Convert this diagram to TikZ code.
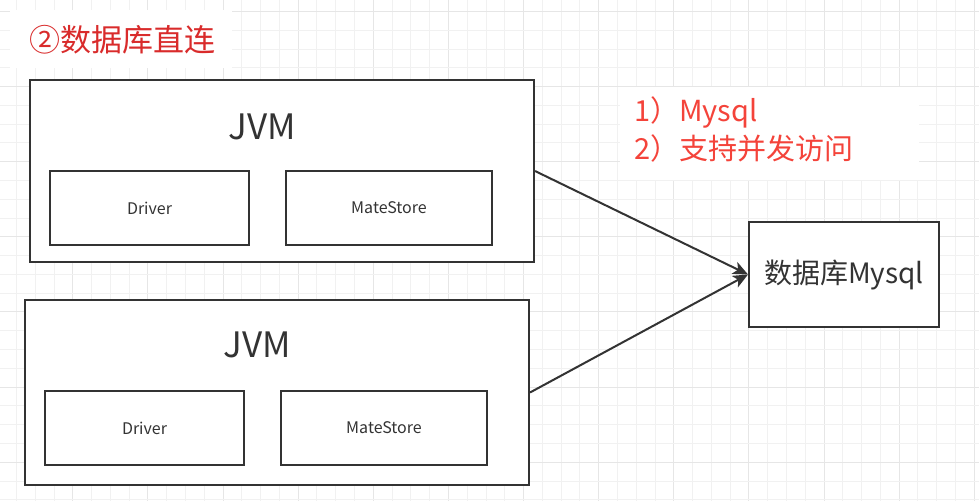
\documentclass[tikz,border=0pt]{standalone}
\usepackage{fontspec}
\setmainfont{Noto Sans CJK SC}
\usetikzlibrary{arrows.meta}

\definecolor{inkgray}{HTML}{333333}
\definecolor{gridminor}{HTML}{F1F1F1}
\definecolor{gridmajor}{HTML}{E6E6E6}
\definecolor{titlered}{HTML}{D92B2B}
\definecolor{notered}{HTML}{F4433A}

\tikzset{
    jvmbox/.style={draw=inkgray, line width=2pt, fill=white, inner sep=0pt},
    partbox/.style={draw=inkgray, line width=1.8pt, fill=white, inner sep=0pt,
        minimum height=74pt, text=inkgray, font=\fontsize{16}{19}\selectfont},
    jvmlabel/.style={text=inkgray, font=\fontsize{35}{40}\selectfont},
    link/.style={draw=inkgray, line width=2pt, -{Stealth[length=15pt, width=13pt, inset=4pt]}}
}

\begin{document}
\begin{tikzpicture}[x=1pt, y=-1pt]
    \useasboundingbox (0,0) rectangle (979,501);
    \fill[white] (0,0) rectangle (979,501);

    % Background grid
    \foreach \i in {0,...,51} {
        \pgfmathsetmacro{\gx}{16.5+18.78*\i}
        \pgfmathtruncatemacro{\gm}{mod(\i,4)}
        \ifnum\gm=3
            \draw[gridmajor, line width=1pt] (\gx,0) -- (\gx,501);
        \else
            \draw[gridminor, line width=1pt] (\gx,0) -- (\gx,501);
        \fi
    }
    \foreach \j in {0,...,26} {
        \pgfmathsetmacro{\gy}{11.5+18.78*\j}
        \pgfmathtruncatemacro{\gm}{mod(\j,4)}
        \ifnum\gm=0
            \draw[gridmajor, line width=1pt] (0,\gy) -- (979,\gy);
        \else
            \draw[gridminor, line width=1pt] (0,\gy) -- (979,\gy);
        \fi
    }

    % Title and notes
    \fill[white] (10,10) rectangle (232,68);
    \node[anchor=west, inner sep=0pt, text=titlered, font=\fontsize{31}{36}\selectfont]
        (title) at (29,40) {②数据库直连};
    \fill[white] (620,87) rectangle (919,180);
    \node[anchor=west, inner sep=0pt, align=left, text=notered, font=\fontsize{29}{38}\selectfont]
        (notes) at (634,129) {1）Mysql\\2）支持并发访问};

    % First JVM
    \node[jvmbox, minimum width=504pt, minimum height=182pt] (jvmA) at (282,171) {};
    \node[jvmlabel] (jvmAlabel) at (262,127) {JVM};
    \node[partbox, minimum width=199pt] (driverA) at (149.5,208) {Driver};
    \node[partbox, minimum width=206pt] (storeA) at (389,208) {MateStore};

    % Second JVM
    \node[jvmbox, minimum width=504pt, minimum height=185pt] (jvmB) at (277,392.5) {};
    \node[jvmlabel] (jvmBlabel) at (257,345) {JVM};
    \node[partbox, minimum width=199pt] (driverB) at (144.5,428) {Driver};
    \node[partbox, minimum width=206pt] (storeB) at (384,428) {MateStore};

    % Database
    \node[jvmbox, minimum width=190pt, minimum height=105pt, text=inkgray,
        font=\fontsize{28}{32}\selectfont] (db) at (844,274.5) {数据库Mysql};

    % Connections
    \draw[link] (jvmA.east) -- (db.west);
    \draw[link] (jvmB.east) -- (db.west);
\end{tikzpicture}
\end{document}
